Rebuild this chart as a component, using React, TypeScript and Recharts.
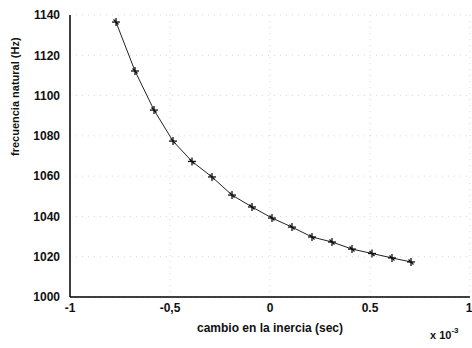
import {
  CartesianGrid,
  Line,
  LineChart,
  XAxis,
  YAxis,
} from "recharts";

const inercia = [-0.77, -0.675, -0.58, -0.485, -0.39, -0.29, -0.19, -0.09, 0.01, 0.11, 0.21, 0.31, 0.41, 0.51, 0.61, 0.705];
const frecuencia = [1136.5, 1112.2, 1092.8, 1077.4, 1067.3, 1059.6, 1050.6, 1044.7, 1039.2, 1034.7, 1029.8, 1027.3, 1023.8, 1021.6, 1019.4, 1017.4];
const xTicks = [-1, -0.5, 0, 0.5, 1];
const xTickLabels = ["-1", "-0,5", "0", "0.5", "1"];
const yTicks = [1000, 1020, 1040, 1060, 1080, 1100, 1120, 1140];

const data = inercia.map((x, i) => ({ x, f: frecuencia[i] }));

const font = "Arial, 'Liberation Sans', sans-serif";

function Star(props: any) {
  const { cx, cy } = props;
  if (cx == null || cy == null) return null;
  return (
    <g stroke="#111" strokeWidth={1.3}>
      <line x1={cx - 4} y1={cy} x2={cx + 4} y2={cy} />
      <line x1={cx} y1={cy - 4} x2={cx} y2={cy + 4} />
      <line x1={cx - 2.5} y1={cy - 2.5} x2={cx + 2.5} y2={cy + 2.5} />
    </g>
  );
}

export default function App() {
  return (
    <div style={{ position: "absolute", left: 0, top: 0, width: 472, height: 348, background: "#fff" }}>
      <LineChart
        width={472}
        height={348}
        data={data}
        margin={{ top: 15, right: 2, left: 0, bottom: 0 }}
      >
        <CartesianGrid strokeDasharray="1 5" stroke="#d8d8d8" />
        <XAxis
          dataKey="x"
          type="number"
          domain={[-1, 1]}
          ticks={xTicks}
          tickFormatter={(v: number) => xTickLabels[xTicks.indexOf(v)]}
          height={51}
          axisLine={{ stroke: "#000", strokeWidth: 1.5 }}
          tickLine={false}
          tick={{ fill: "#111", fontSize: 12, fontFamily: font, fontWeight: 600 }}
          tickMargin={0}
          label={{ value: "cambio en la inercia (sec)", position: "insideBottom", offset: 16, fill: "#111", fontSize: 12, fontFamily: font, fontWeight: 600 }}
        />
        <XAxis xAxisId="top" orientation="top" type="number" domain={[-1, 1]} height={0} tick={false} tickLine={false} axisLine={{ stroke: "#000", strokeWidth: 1.5 }} />
        <YAxis
          type="number"
          domain={[1000, 1140]}
          ticks={yTicks}
          width={70}
          axisLine={{ stroke: "#000", strokeWidth: 1.5 }}
          tickLine={false}
          tick={{ fill: "#111", fontSize: 12, fontFamily: font, fontWeight: 600 }}
          tickMargin={4}
          label={{ value: "frecuencia natural (Hz)", angle: -90, position: "insideLeft", offset: 15, fill: "#111", fontSize: 11, fontFamily: font, fontWeight: 600 }}
        />
        <YAxis yAxisId="right" orientation="right" domain={[1000, 1140]} width={0} tick={false} tickLine={false} axisLine={{ stroke: "#000", strokeWidth: 1.5 }} />
        <Line
          dataKey="f"
          type="linear"
          stroke="#222"
          strokeWidth={1}
          dot={<Star />}
          isAnimationActive={false}
        />
      </LineChart>
      <div style={{ position: "absolute", left: 430, top: 326, fontFamily: font, fontSize: 11, fontWeight: 600, color: "#111" }}>
        x 10<sup style={{ fontSize: 8, verticalAlign: "6px" }}>-3</sup>
      </div>
    </div>
  );
}
